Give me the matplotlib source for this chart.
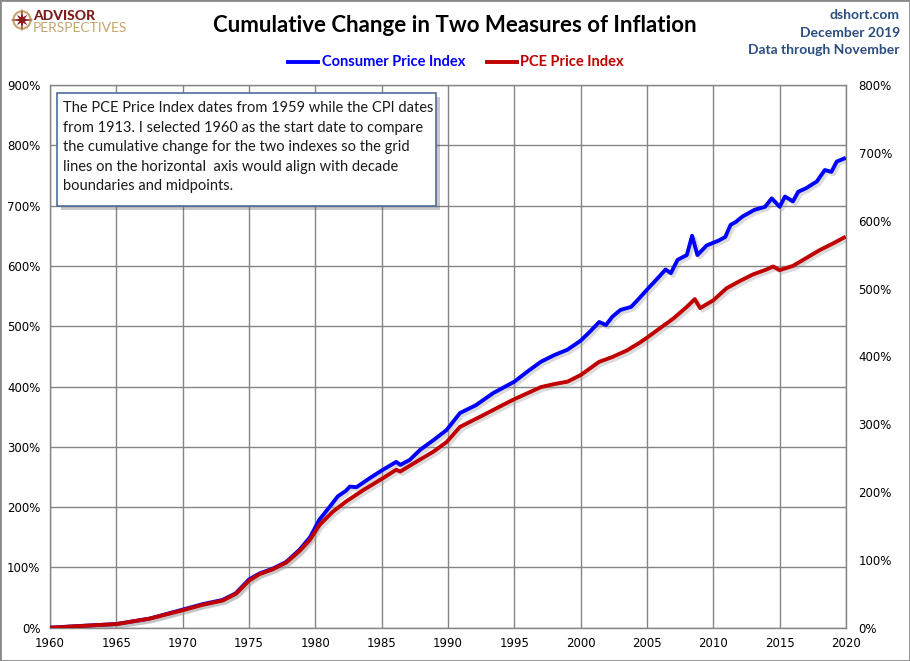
import numpy as np
import matplotlib.pyplot as plt
import matplotlib.patheffects as pe
from matplotlib.patches import Polygon, Circle, Rectangle
from matplotlib.lines import Line2D

# --- DATA (cumulative % change since 1960) ---
cpi_years = [1960.0, 1962.0, 1965.0, 1967.5, 1970.0, 1971.5, 1973.0, 1974.0, 1975.0, 1975.8,
             1976.8, 1977.8, 1978.8, 1979.6, 1980.3, 1981.1, 1981.7, 1982.3, 1982.6, 1983.1,
             1984.1, 1985.1, 1986.1, 1986.4, 1987.1, 1987.9, 1988.9, 1989.9, 1990.9, 1992.1,
             1993.4, 1995.0, 1996.0, 1997.0, 1998.0, 1999.0, 2000.0, 2000.7, 2001.4, 2001.9,
             2002.4, 2003.0, 2003.8, 2004.4, 2005.1, 2005.7, 2006.4, 2006.8, 2007.3, 2008.0,
             2008.4, 2008.8, 2009.5, 2010.4, 2010.9, 2011.3, 2011.7, 2012.2, 2012.7, 2013.1,
             2013.9, 2014.4, 2015.0, 2015.4, 2016.0, 2016.4, 2017.0, 2017.8, 2018.4, 2018.9,
             2019.3, 2019.85]
cpi_values = [0, 2.5, 6, 15, 30, 39, 46, 57, 80, 90,
              98, 109, 129, 150, 179, 201, 218, 227, 234, 233,
              248, 262, 275, 270, 278, 295, 311, 328, 356, 369,
              389, 408, 425, 441, 452, 461, 476, 491, 507, 502,
              516, 527, 532, 546, 563, 577, 594, 588, 610, 618,
              650, 618, 634, 642, 648, 668, 673, 682, 688, 693,
              698, 712, 698, 715, 707, 723, 729, 740, 759, 756,
              773, 778]

pce_years = [1960.0, 1962.0, 1965.0, 1967.5, 1970.0, 1971.5, 1973.0, 1974.0, 1975.0, 1975.8,
             1976.8, 1977.8, 1978.8, 1979.6, 1980.3, 1981.3, 1982.3, 1983.6, 1985.1, 1986.1,
             1986.4, 1987.6, 1988.9, 1989.9, 1990.9, 1992.7, 1994.1, 1995.0, 1996.0, 1997.0,
             1998.0, 1999.0, 2000.0, 2001.4, 2002.4, 2003.5, 2004.4, 2005.0, 2006.0, 2007.0,
             2008.0, 2008.6, 2009.0, 2010.0, 2011.0, 2012.0, 2013.0, 2014.0, 2014.5, 2015.0,
             2016.0, 2017.0, 2018.0, 2019.0, 2019.85]
pce_values = [0, 2.5, 6, 15, 29, 38, 45, 56, 78, 89,
              97, 108, 127, 146, 170, 192, 209, 228, 248, 262,
              259, 275, 292, 308, 333, 353, 369, 379, 389, 399,
              404, 408, 419, 441, 449, 460, 472, 481, 497, 513,
              532, 545, 530, 543, 563, 575, 586, 594, 599, 593,
              600, 613, 626, 637, 647]

x_ticks = list(range(1960, 2021, 5))
left_ticks = list(range(0, 901, 100))
right_ticks = list(range(0, 801, 100))

note_lines = ["The PCE Price Index dates from 1959 while the CPI dates",
              "from 1913. I selected 1960 as the start date to compare",
              "the cumulative change for the two indexes so the grid",
              "lines on the horizontal  axis would align with decade",
              "boundaries and midpoints."]

# --- FIGURE ---
W, H = 910, 661
fig = plt.figure(figsize=(W / 100, H / 100), dpi=100)
fig.patch.set_facecolor("white")

def fx(px):
    return px / W

def fy(py):
    return (H - py) / H

ax = fig.add_axes([fx(50), fy(627.7), fx(846) - fx(50), fy(85) - fy(627.7)])
grid_col = "#858585"
ax.set_xlim(1960, 2020)
ax.set_ylim(0, 900)
ax.set_xticks(x_ticks)
ax.set_xticklabels([str(x) for x in x_ticks])
ax.set_yticks(left_ticks)
ax.set_yticklabels([f"{v}%" for v in left_ticks])
ax.grid(True, color=grid_col, linewidth=1.0)
ax.tick_params(length=0, labelsize=8.5, colors="#000000", pad=7)
for s in ax.spines.values():
    s.set_color(grid_col)
    s.set_linewidth(1.0)

ax2 = ax.twinx()
ax2.set_ylim(0, 800)
ax2.set_yticks(right_ticks)
ax2.set_yticklabels([f"{v}%" for v in right_ticks])
ax2.tick_params(length=0, labelsize=8.5, pad=9)
for s in ax2.spines.values():
    s.set_visible(False)

# soft drop shadow under each series
shadow = [pe.SimpleLineShadow(offset=(1.8, -1.8), shadow_color="#9a9a9a", alpha=0.35),
          pe.Normal()]
ax.plot(cpi_years, cpi_values, color="#0000FF", lw=2.8, solid_joinstyle="round",
        path_effects=shadow, zorder=3)
ax.plot(pce_years, pce_values, color="#C00000", lw=2.8, solid_joinstyle="round",
        path_effects=shadow, zorder=4)

# --- TITLE / LEGEND / HEADER TEXT ---
fig.text(fx(455), fy(26), "Cumulative Change in Two Measures of Inflation",
         family="Lato", weight="bold", fontsize=16, ha="center", va="center")

fig.add_artist(Line2D([fx(288), fx(318)], [fy(62), fy(62)], color="#0000FF", lw=2.8))
fig.text(fx(322), fy(62), "Consumer Price Index", family="Lato", weight="bold",
         fontsize=10.5, color="#0000FF", ha="left", va="center")
fig.add_artist(Line2D([fx(487), fx(517)], [fy(62), fy(62)], color="#C00000", lw=2.8))
fig.text(fx(520), fy(62), "PCE Price Index", family="Lato", weight="bold",
         fontsize=10.5, color="#C00000", ha="left", va="center")

hdr_col = "#2B4C7E"
for txt, y in [("dshort.com", 15), ("December 2019", 33), ("Data through November", 50)]:
    fig.text(fx(900), fy(y), txt, family="Lato", weight="bold", fontsize=10,
             color=hdr_col, ha="right", va="center")

# --- LOGO ---
lax = fig.add_axes([fx(10), fy(32), fx(24), fy(8) - fy(32)])
lax.set_xlim(-1, 1)
lax.set_ylim(-1, 1)
lax.set_aspect("equal")
lax.axis("off")
lax.add_patch(Circle((0, 0), 0.72, fill=False, ec="#C5A46D", lw=1.5))
ang = np.linspace(0, 2 * np.pi, 17)[:-1] + np.pi / 2
rad = np.array([1.0 if i % 4 == 0 else (0.62 if i % 2 == 0 else 0.25) for i in range(16)])
lax.add_patch(Polygon(np.c_[rad * np.cos(ang), rad * np.sin(ang)], closed=True,
                      fc="#8B1A1A", ec="none"))
fig.text(fx(33), fy(16), "ADVISOR", family="Lato", weight="black", fontsize=10,
         color="#7B1C1C", ha="left", va="center")
fig.text(fx(33), fy(27.5), "PERSPECTIVES", family="Lato", fontsize=10,
         color="#C5A46D", ha="left", va="center")

# --- NOTE BOX ---
box = Rectangle((fx(57), fy(206)), fx(436) - fx(57), fy(93) - fy(206), transform=fig.transFigure,
                fc="white", ec="#4F6D9A", lw=1.2, zorder=10,
                path_effects=[pe.SimplePatchShadow(offset=(3, -3), alpha=0.3), pe.Normal()])
fig.add_artist(box)
for i, line in enumerate(note_lines):
    fig.text(fx(63), fy(108 + i * 19.6), line, family="Lato", fontsize=10.5,
             color="#1a1a1a", ha="left", va="center", zorder=11)

# --- FRAME ---
fig.add_artist(Rectangle((0, 0), 1, 1, transform=fig.transFigure, fill=False,
                         ec="#8a8a8a", lw=2, zorder=20))

fig.savefig("out.png", dpi=100)
